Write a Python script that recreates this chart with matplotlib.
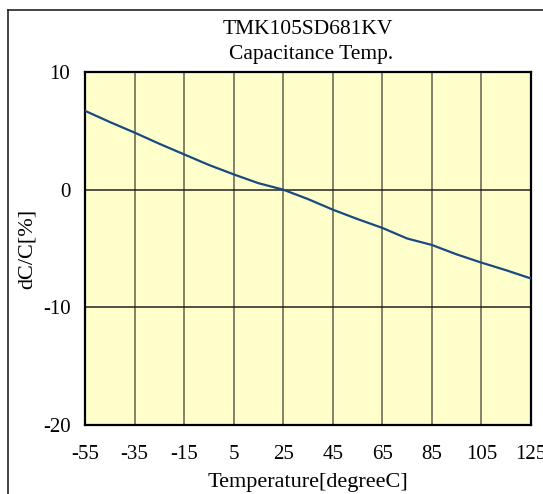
import matplotlib
matplotlib.use('Agg')
import matplotlib.pyplot as plt
from matplotlib.lines import Line2D

plt.rcParams['font.family'] = ['Liberation Serif', 'DejaVu Serif']
plt.rcParams['axes.unicode_minus'] = False

temp = [-55, -45, -35, -25, -15, -5, 5, 15, 25, 35, 45, 55, 65, 75, 85, 95, 105, 115, 125]
dcc = [6.7, 5.75, 4.85, 3.9, 3.0, 2.1, 1.3, 0.55, 0.0, -0.8, -1.7, -2.5, -3.25, -4.15, -4.7,
       -5.5, -6.2, -6.85, -7.55]
xticks = [-55, -35, -15, 5, 25, 45, 65, 85, 105, 125]
yticks = [-20, -10, 0, 10]

fig = plt.figure(figsize=(5.43, 4.94), dpi=100)
ax = fig.add_axes([85 / 543, 1 - 425 / 494, 446 / 543, 353 / 494])
ax.set_facecolor('#FFFFCC')

ax.plot(temp, dcc, color='#1a4a80', lw=1.6, zorder=3)

ax.set_xlim(-55, 125)
ax.set_ylim(-20, 10)
ax.set_xticks(xticks)
ax.set_yticks(yticks)
for x in xticks[1:-1]:
    ax.axvline(x, color='#606050', lw=1.1, zorder=1)
for y in yticks[1:-1]:
    ax.axhline(y, color='#202020', lw=1.1, zorder=1)

ax.tick_params(length=0, labelsize=15)
ax.tick_params(axis='x', pad=14.5)
ax.tick_params(axis='y', pad=10.5)
for s in ax.spines.values():
    s.set_linewidth(1.6)
    s.set_color('black')

ax.set_xlabel('Temperature[degreeC]', fontsize=16, va='center')
ax.set_ylabel('dC/C[%]', fontsize=16, va='center')
ax.xaxis.set_label_coords(0.5, (425 - 482) / 353)
ax.yaxis.set_label_coords((27 - 85) / 446, 0.5)

fig.text(308 / 543, 1 - 29 / 494, 'TMK105SD681KV', ha='center', va='center', fontsize=15.5)
fig.text(311 / 543, 1 - 55 / 494, 'Capacitance Temp.', ha='center', va='center', fontsize=15.5)

# outer frame, cut off at right and bottom
fig.add_artist(Line2D([8 / 543, 8 / 543], [0, 1 - 10 / 494], color='#222222', lw=1.2))
fig.add_artist(Line2D([8 / 543, 1], [1 - 10 / 494, 1 - 10 / 494], color='#222222', lw=1.2))

fig.savefig('out.png', dpi=100)
